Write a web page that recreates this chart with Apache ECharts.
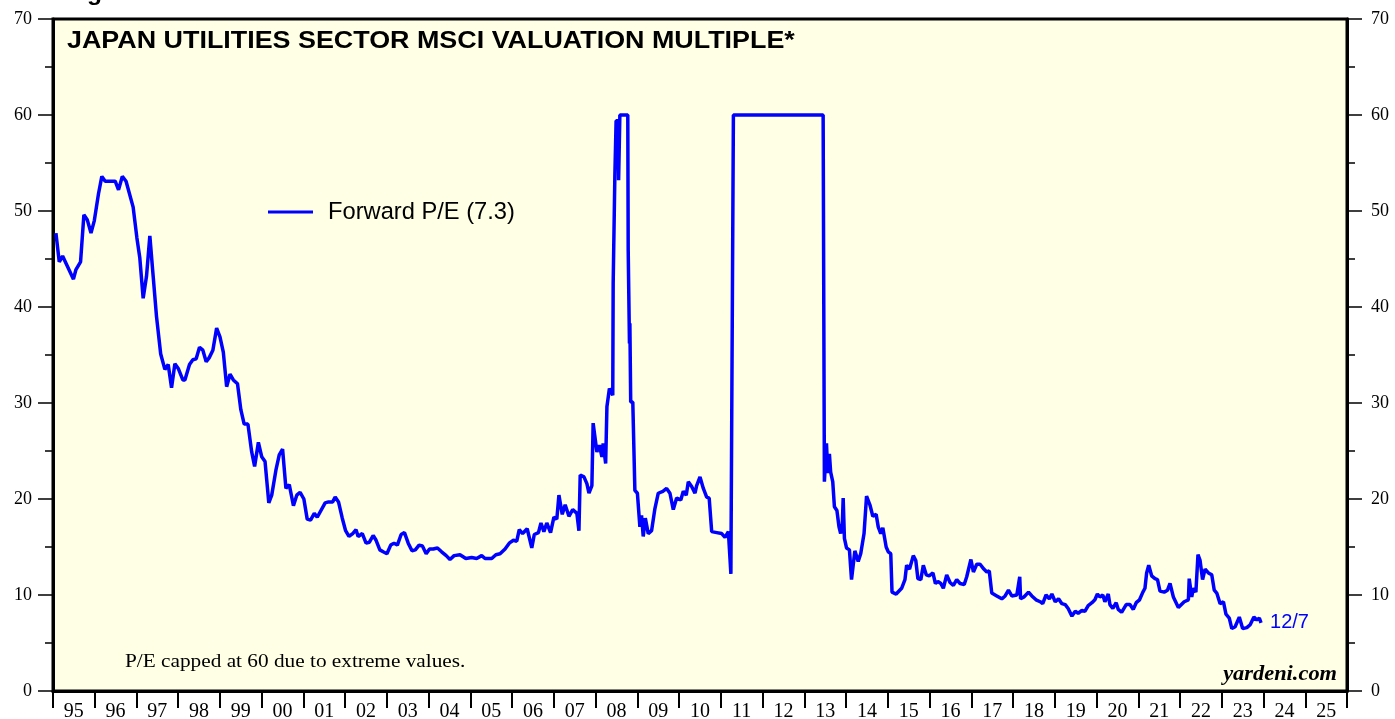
<!DOCTYPE html>
<html>
<head>
<meta charset="utf-8">
<script src="https://cdn.jsdelivr.net/npm/echarts@6/dist/echarts.min.js"></script>
<style>
  html, body { margin: 0; padding: 0; background: #fff; }
  #chart { width: 1395px; height: 719px; }
</style>
</head>
<body>
<div id="chart"></div>
<script>
// decimal years and forward P/E
const dates = [
  1995.07, 1995.15, 1995.23, 1995.49, 1995.55, 1995.66, 1995.74, 1995.82, 1995.91, 1995.99,
  1996.09, 1996.17, 1996.25, 1996.49, 1996.57, 1996.66, 1996.75, 1996.92,
  1997.01, 1997.08, 1997.16, 1997.24, 1997.32, 1997.40, 1997.48, 1997.58, 1997.68, 1997.76, 1997.84, 1997.92,
  1998.00, 1998.11, 1998.16, 1998.27, 1998.35, 1998.43, 1998.51, 1998.59, 1998.67, 1998.74, 1998.83, 1998.92,
  1999.00, 1999.08, 1999.16, 1999.24, 1999.32, 1999.42, 1999.50, 1999.58, 1999.67, 1999.76, 1999.83, 1999.92,
  2000.00, 2000.08, 2000.17, 2000.24, 2000.34, 2000.42, 2000.50, 2000.58, 2000.66, 2000.76, 2000.84, 2000.92,
  2001.01, 2001.09, 2001.17, 2001.26, 2001.33, 2001.52, 2001.60, 2001.70, 2001.76, 2001.84, 2001.93,
  2002.01, 2002.09, 2002.18, 2002.26, 2002.31, 2002.41, 2002.50, 2002.58, 2002.67, 2002.74, 2002.83, 2002.91,
  2003.00, 2003.09, 2003.17, 2003.25, 2003.34, 2003.42, 2003.51, 2003.60, 2003.68, 2003.77, 2003.85, 2003.94,
  2004.02, 2004.11, 2004.21, 2004.31, 2004.42, 2004.51, 2004.61, 2004.75, 2004.89,
  2005.03, 2005.15, 2005.27, 2005.35, 2005.51, 2005.61, 2005.71, 2005.83, 2005.93,
  2006.03, 2006.11, 2006.17, 2006.25, 2006.36, 2006.47, 2006.53, 2006.63, 2006.69, 2006.76, 2006.83, 2006.92,
  2007.00, 2007.07, 2007.12, 2007.20, 2007.27, 2007.36, 2007.45, 2007.55, 2007.60, 2007.63, 2007.72, 2007.79, 2007.84, 2007.91, 2007.94,
  2008.03, 2008.09, 2008.15, 2008.18, 2008.24, 2008.27, 2008.33, 2008.41, 2008.42, 2008.46, 2008.49, 2008.54, 2008.55, 2008.58,
  2008.77, 2008.78, 2008.81, 2008.82, 2008.84, 2008.89, 2008.94,
  2009.00, 2009.06, 2009.10, 2009.14, 2009.19, 2009.26, 2009.34, 2009.42, 2009.50, 2009.61, 2009.70, 2009.78, 2009.86, 2009.94,
  2010.04, 2010.10, 2010.17, 2010.22, 2010.30, 2010.38, 2010.42, 2010.50, 2010.58, 2010.66, 2010.72, 2010.78, 2010.90,
  2011.02, 2011.10, 2011.18, 2011.24, 2011.28, 2011.30,
  2013.45, 2013.48, 2013.53, 2013.56, 2013.60, 2013.63, 2013.68, 2013.72, 2013.78, 2013.83, 2013.87, 2013.91, 2013.93, 2013.96,
  2014.01, 2014.08, 2014.13, 2014.21, 2014.29, 2014.35, 2014.43, 2014.49, 2014.57, 2014.64, 2014.72, 2014.77, 2014.83, 2014.88, 2014.96,
  2015.01, 2015.07, 2015.10, 2015.20, 2015.23, 2015.33, 2015.41, 2015.45, 2015.52, 2015.61, 2015.67, 2015.72, 2015.79, 2015.85, 2015.92, 2015.99,
  2016.08, 2016.14, 2016.20, 2016.27, 2016.33, 2016.41, 2016.49, 2016.57, 2016.65, 2016.73, 2016.83, 2016.89, 2016.99,
  2017.05, 2017.13, 2017.21, 2017.30, 2017.37, 2017.43, 2017.49, 2017.61, 2017.73, 2017.81, 2017.89, 2017.97,
  2018.09, 2018.16, 2018.18, 2018.26, 2018.37, 2018.45, 2018.55, 2018.65, 2018.71, 2018.79, 2018.87, 2018.93,
  2019.01, 2019.09, 2019.17, 2019.25, 2019.32, 2019.41, 2019.49, 2019.56, 2019.65, 2019.72, 2019.80, 2019.89, 2019.96,
  2020.02, 2020.08, 2020.15, 2020.20, 2020.28, 2020.32, 2020.39, 2020.47, 2020.52, 2020.60, 2020.71, 2020.80, 2020.88, 2020.95,
  2021.03, 2021.11, 2021.16, 2021.20, 2021.25, 2021.32, 2021.40, 2021.46, 2021.52, 2021.62, 2021.70, 2021.76, 2021.84, 2021.96,
  2022.10, 2022.20, 2022.22, 2022.28, 2022.32, 2022.38, 2022.43, 2022.48, 2022.54, 2022.60, 2022.68, 2022.76, 2022.82, 2022.88, 2022.96,
  2023.04, 2023.10, 2023.18, 2023.24, 2023.32, 2023.42, 2023.50, 2023.60, 2023.68, 2023.77, 2023.84, 2023.90, 2023.94
];
const pe = [
  47.7, 44.7, 45.3, 42.9, 43.9, 44.7, 49.6, 49.1, 47.7, 49.0,
  51.8, 53.6, 53.1, 53.1, 52.2, 53.6, 53.1, 50.4,
  47.2, 45.1, 40.9, 43.2, 47.4, 43.2, 39.0, 35.1, 33.5, 34.0, 31.6, 34.1,
  33.6, 32.4, 32.4, 34.0, 34.5, 34.6, 35.8, 35.5, 34.3, 34.7, 35.5, 37.8,
  36.9, 35.3, 31.7, 33.0, 32.4, 32.0, 29.3, 27.8, 27.8, 24.9, 23.4, 25.9,
  24.4, 23.9, 19.6, 20.4, 23.0, 24.6, 25.2, 21.1, 21.5, 19.3, 20.4, 20.7,
  20.0, 17.9, 17.8, 18.5, 18.1, 19.6, 19.7, 19.7, 20.2, 19.7, 18.0,
  16.7, 16.1, 16.4, 16.8, 16.1, 16.4, 15.4, 15.5, 16.2, 15.7, 14.7, 14.5,
  14.3, 15.2, 15.4, 15.2, 16.3, 16.5, 15.4, 14.6, 14.7, 15.2, 15.1, 14.3,
  14.8, 14.8, 14.9, 14.5, 14.1, 13.7, 14.1, 14.2, 13.8,
  13.9, 13.8, 14.1, 13.8, 13.8, 14.2, 14.3, 14.8, 15.4,
  15.7, 15.6, 16.8, 16.4, 16.9, 14.9, 16.3, 16.5, 17.5, 16.6, 17.5, 16.5,
  18.1, 17.9, 20.4, 18.4, 19.4, 18.2, 18.9, 18.5, 16.7, 22.5, 22.3, 21.6, 20.6, 21.4, 27.9,
  24.9, 25.6, 24.4, 25.8, 23.7, 29.6, 31.5, 30.8, 42.5, 53.6, 59.4, 59.4, 53.2, 60,
  60, 45.9, 36.2, 38.3, 30.1, 30.1, 20.9,
  20.6, 17.1, 18.3, 16.1, 18.0, 16.4, 16.7, 19.0, 20.6, 20.8, 21.1, 20.6, 18.9, 20.1,
  19.9, 20.8, 20.4, 21.8, 21.3, 20.6, 21.4, 22.3, 21.1, 20.2, 20.1, 16.6, 16.5,
  16.4, 16.0, 16.6, 12.2, 12.2, 60,
  60, 21.8, 25.8, 22.7, 24.7, 22.8, 21.8, 19.2, 18.8, 17.1, 16.4, 17.4, 20.1, 15.9,
  14.9, 14.7, 11.6, 14.6, 13.5, 14.3, 16.4, 20.3, 19.4, 18.2, 18.4, 17.1, 16.4, 17.0, 15.0,
  14.5, 14.3, 10.3, 10.1, 9.9, 10.7, 11.6, 13.1, 12.7, 14.1, 13.6, 11.7, 11.6, 13.1, 12.1, 12.0,
  12.3, 11.2, 11.4, 11.2, 10.7, 12.1, 11.3, 11.0, 11.6, 11.2, 11.1, 11.9, 13.7,
  12.4, 13.2, 13.2, 12.7, 12.4, 12.5, 10.2, 9.9, 9.6, 9.9, 10.5, 9.9,
  10.0, 11.9, 9.6, 9.8, 10.3, 9.9, 9.5, 9.3, 9.1, 10.0, 9.6, 10.1,
  9.3, 9.6, 9.1, 9.0, 8.6, 7.8, 8.3, 8.1, 8.4, 8.3, 8.9, 9.2, 9.5,
  10.1, 9.8, 10.0, 9.3, 10.1, 9.0, 8.6, 9.2, 8.5, 8.2, 9.0, 9.0, 8.5, 9.2,
  9.5, 10.3, 10.7, 12.3, 13.1, 12.0, 11.7, 11.6, 10.4, 10.3, 10.5, 11.2, 9.8, 8.7,
  9.3, 9.5, 11.7, 9.8, 10.7, 10.3, 14.2, 13.6, 11.6, 12.7, 12.3, 12.1, 10.5, 10.2, 9.1,
  9.3, 8.0, 7.6, 6.5, 6.7, 7.7, 6.5, 6.6, 6.9, 7.7, 7.4, 7.6, 7.1
];
const yearLabels = ['95','96','97','98','99','00','01','02','03','04','05','06','07','08','09','10',
  '11','12','13','14','15','16','17','18','19','20','21','22','23','24','25'];
const seriesName = 'Forward P/E (7.3)';

const chart = echarts.init(document.getElementById('chart'));

const serif = 'Liberation Serif, Times New Roman, serif';
const sans = 'Liberation Sans, Arial, sans-serif';
// the reference text is a little wider than the font, stretch it sideways
const stretch = 1.12;

const yAxisBase = {
  type: 'value',
  min: 0,
  max: 70,
  interval: 10,
  axisLine: { show: true, lineStyle: { color: '#000', width: 3 } },
  axisTick: { show: true, inside: false, length: 15, lineStyle: { color: '#000', width: 1.5 } },
  minorTick: { show: true, splitNumber: 2, length: 8, lineStyle: { color: '#000', width: 1.5 } },
  splitLine: { show: false },
  axisLabel: { color: '#000', fontFamily: serif, fontSize: 18 }
};

const option = {
  animation: false,
  backgroundColor: '#fff',
  grid: {
    left: 53, right: 48, top: 19, bottom: 28,
    outerBoundsMode: 'none',
    show: true,
    backgroundColor: '#FFFFE5',
    borderColor: '#000',
    borderWidth: 3
  },
  legend: {
    data: [seriesName],
    left: 268,
    top: 200,
    padding: 0,
    icon: 'rect',
    itemWidth: 45,
    itemHeight: 3,
    textStyle: { color: '#000', fontFamily: sans, fontSize: 23.7, padding: [0, 0, 0, 10] }
  },
  xAxis: [
    {
      type: 'value',
      position: 'bottom',
      min: 1995,
      max: 2026,
      interval: 1,
      axisLine: { show: true, lineStyle: { color: '#000', width: 3 } },
      axisTick: { show: true, inside: false, length: 17, lineStyle: { color: '#000', width: 2 } },
      axisLabel: { show: false },
      splitLine: { show: false }
    },
    {
      type: 'category',
      position: 'bottom',
      data: yearLabels,
      boundaryGap: true,
      axisLine: { show: false },
      axisTick: { show: false },
      axisLabel: { color: '#000', fontFamily: serif, fontSize: 20, margin: 11, interval: 0 },
      splitLine: { show: false }
    }
  ],
  yAxis: [
    Object.assign({}, yAxisBase, { position: 'left', axisLabel: Object.assign({}, yAxisBase.axisLabel, { margin: 21 }) }),
    Object.assign({}, yAxisBase, { position: 'right', axisLabel: Object.assign({}, yAxisBase.axisLabel, { margin: 24 }) })
  ],
  series: [{
    name: seriesName,
    type: 'line',
    xAxisIndex: 0,
    yAxisIndex: 0,
    showSymbol: false,
    symbol: 'none',
    color: '#0000FF',
    lineStyle: { color: '#0000FF', width: 3.5 },
    data: dates.map((d, i) => [d, pe[i]]),
    endLabel: {
      show: true,
      formatter: '12/7',
      color: '#0000FF',
      fontFamily: sans,
      fontSize: 20,
      distance: 9
    }
  }],
  graphic: [
    {
      type: 'text', x: 65, y: -17, scaleX: stretch,
      style: { text: 'Figure 7.', fill: '#000', font: 'bold 22px ' + sans }
    },
    {
      type: 'text', x: 67, y: 29, scaleX: stretch,
      style: { text: 'JAPAN UTILITIES SECTOR MSCI VALUATION MULTIPLE*', fill: '#000', font: 'bold 24px ' + sans }
    },
    {
      type: 'text', x: 125, y: 653, scaleX: stretch,
      style: { text: 'P/E capped at 60 due to extreme values.', fill: '#000', font: '19px ' + serif }
    },
    {
      type: 'text', x: 1337, y: 665, scaleX: stretch,
      style: { text: 'yardeni.com', fill: '#000', font: 'italic bold 20px ' + serif, align: 'right' }
    }
  ]
};

chart.setOption(option);
</script>
</body>
</html>
